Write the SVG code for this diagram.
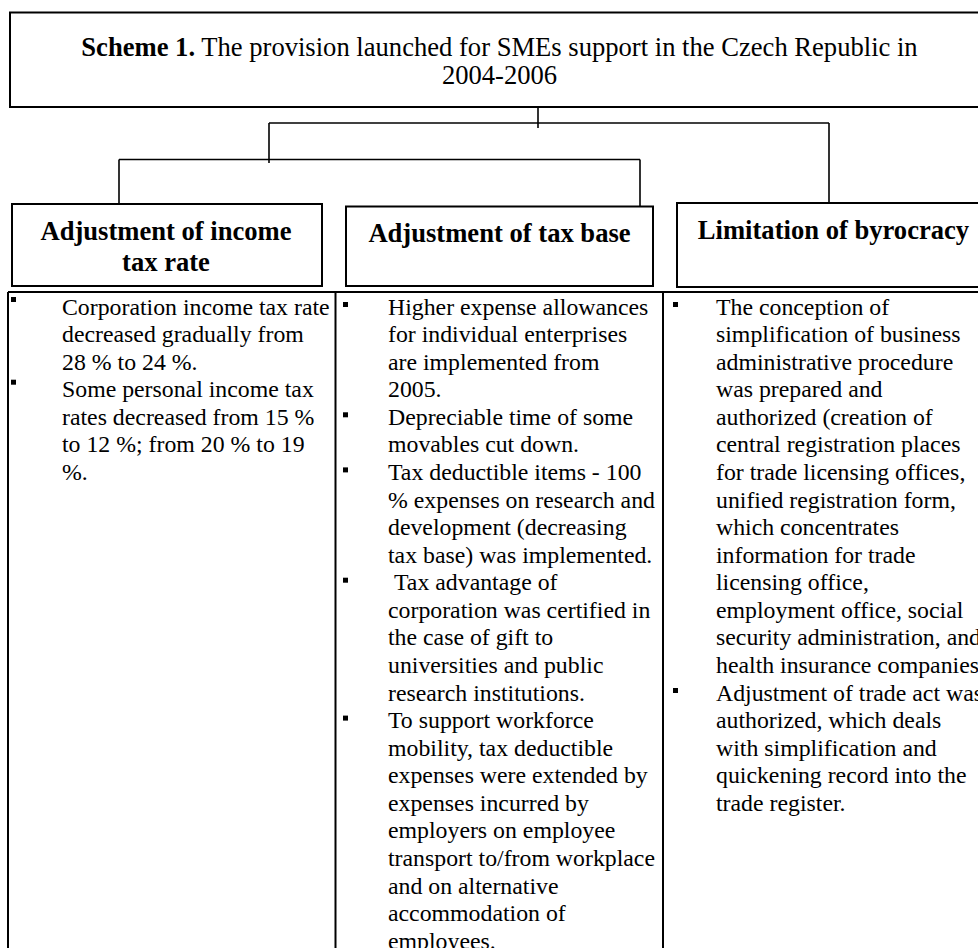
<svg xmlns="http://www.w3.org/2000/svg" width="978" height="948" viewBox="0 0 978 948">
<style>
.box{fill:#fff;stroke:#000;stroke-width:2}
.ln{fill:none;stroke:#000;stroke-width:1.6}
.tl{fill:none;stroke:#000;stroke-width:2}
.t{font-family:"Liberation Serif","Times New Roman",serif;fill:#000}
.title{font-size:26.6px}
.hd{font-size:26.6px;font-weight:bold;text-anchor:middle}
.bd{font-size:23.8px}
.b{font-weight:bold}
.bul{fill:#000}
</style>
<rect width="978" height="948" fill="#fff"/>
<g id="title">
<rect class="box" x="10" y="12.5" width="985" height="94.5"/>
<text class="t title" text-anchor="middle" x="499.5" y="55.5"><tspan class="b">Scheme 1.</tspan> The provision launched for SMEs support in the Czech Republic in</text>
<text class="t title" text-anchor="middle" x="499.5" y="84">2004-2006</text>
</g>
<g id="connectors">
<path class="ln" d="M538 107 V128"/>
<path class="ln" d="M269 123 H829"/>
<path class="ln" d="M269 123 V163"/>
<path class="ln" d="M119 159.5 H640"/>
<path class="ln" d="M119 159.5 V204"/>
<path class="ln" d="M640 159.5 V206"/>
<path class="ln" d="M829 123 V203"/>
</g>
<g id="head1">
<rect class="box" x="12" y="204" width="310" height="82"/>
<text class="t hd" x="166" y="240">Adjustment of income</text>
<text class="t hd" x="166" y="270.5">tax rate</text>
</g>
<g id="head2">
<rect class="box" x="346" y="206.5" width="307" height="79.5"/>
<text class="t hd" x="499.5" y="241.5">Adjustment of tax base</text>
</g>
<g id="head3">
<rect class="box" x="677" y="203" width="320" height="84"/>
<text class="t hd" x="833.5" y="239">Limitation of byrocracy</text>
</g>
<g id="table">
<path class="tl" d="M8 292 H978"/>
<path class="tl" d="M8 292 V948"/>
<path class="tl" d="M335.5 292 V948"/>
<path class="tl" d="M663 292 V948"/>
</g>
<g id="col1">
<rect class="bul" x="11" y="297" width="5" height="5"/>
<rect class="bul" x="11" y="379.7" width="5" height="5"/>
<text class="t bd" x="62" y="314.5">Corporation income tax rate</text>
<text class="t bd" x="62" y="342.1">decreased gradually from</text>
<text class="t bd" x="62" y="369.6">28 % to 24 %.</text>
<text class="t bd" x="62" y="397.2">Some personal income tax</text>
<text class="t bd" x="62" y="424.8">rates decreased from 15 %</text>
<text class="t bd" x="62" y="452.4">to 12 %; from 20 % to 19</text>
<text class="t bd" x="62" y="479.9">%.</text>
</g>
<g id="col2">
<rect class="bul" x="343" y="302" width="5" height="5"/>
<rect class="bul" x="343" y="412.3" width="5" height="5"/>
<rect class="bul" x="343" y="467.4" width="5" height="5"/>
<rect class="bul" x="343" y="577.7" width="5" height="5"/>
<rect class="bul" x="343" y="715.6" width="5" height="5"/>
<text class="t bd" x="388" y="314.5">Higher expense allowances</text>
<text class="t bd" x="388" y="342.1">for individual enterprises</text>
<text class="t bd" x="388" y="369.6">are implemented from</text>
<text class="t bd" x="388" y="397.2">2005.</text>
<text class="t bd" x="388" y="424.8">Depreciable time of some</text>
<text class="t bd" x="388" y="452.4">movables cut down.</text>
<text class="t bd" x="388" y="479.9">Tax deductible items - 100</text>
<text class="t bd" x="388" y="507.5">% expenses on research and</text>
<text class="t bd" x="388" y="535.1">development (decreasing</text>
<text class="t bd" x="388" y="562.6">tax base) was implemented.</text>
<text class="t bd" x="394" y="590.2">Tax advantage of</text>
<text class="t bd" x="388" y="617.8">corporation was certified in</text>
<text class="t bd" x="388" y="645.3">the case of gift to</text>
<text class="t bd" x="388" y="672.9">universities and public</text>
<text class="t bd" x="388" y="700.5">research institutions.</text>
<text class="t bd" x="388" y="728.1">To support workforce</text>
<text class="t bd" x="388" y="755.6">mobility, tax deductible</text>
<text class="t bd" x="388" y="783.2">expenses were extended by</text>
<text class="t bd" x="388" y="810.8">expenses incurred by</text>
<text class="t bd" x="388" y="838.3">employers on employee</text>
<text class="t bd" x="388" y="865.9">transport to/from workplace</text>
<text class="t bd" x="388" y="893.5">and on alternative</text>
<text class="t bd" x="388" y="921">accommodation of</text>
<text class="t bd" x="388" y="948.6">employees.</text>
</g>
<g id="col3">
<rect class="bul" x="673" y="302" width="5" height="5"/>
<rect class="bul" x="673" y="688" width="5" height="5"/>
<text class="t bd" x="716" y="314.5">The conception of</text>
<text class="t bd" x="716" y="342.1">simplification of business</text>
<text class="t bd" x="716" y="369.6">administrative procedure</text>
<text class="t bd" x="716" y="397.2">was prepared and</text>
<text class="t bd" x="716" y="424.8">authorized (creation of</text>
<text class="t bd" x="716" y="452.4">central registration places</text>
<text class="t bd" x="716" y="479.9">for trade licensing offices,</text>
<text class="t bd" x="716" y="507.5">unified registration form,</text>
<text class="t bd" x="716" y="535.1">which concentrates</text>
<text class="t bd" x="716" y="562.6">information for trade</text>
<text class="t bd" x="716" y="590.2">licensing office,</text>
<text class="t bd" x="716" y="617.8">employment office, social</text>
<text class="t bd" x="716" y="645.3">security administration, and</text>
<text class="t bd" x="716" y="672.9">health insurance companies</text>
<text class="t bd" x="716" y="700.5">Adjustment of trade act was</text>
<text class="t bd" x="716" y="728.1">authorized, which deals</text>
<text class="t bd" x="716" y="755.6">with simplification and</text>
<text class="t bd" x="716" y="783.2">quickening record into the</text>
<text class="t bd" x="716" y="810.8">trade register.</text>
</g>
</svg>
